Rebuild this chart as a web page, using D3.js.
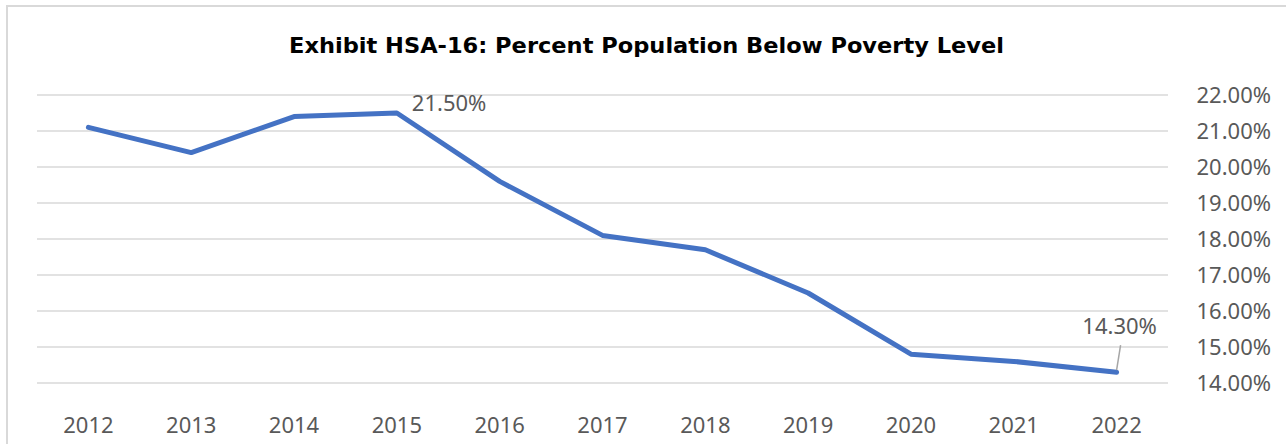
<!DOCTYPE html>
<html>
<head>
<meta charset="utf-8">
<script src="https://cdn.jsdelivr.net/npm/d3@7"></script>
<style>
    body { margin: 0; background: #fff; }
    svg { display: block; font-family: "Noto Sans", "Open Sans", sans-serif; }
    .grid line { stroke: #d9d9d9; stroke-width: 1.5; }
    .tick_value { fill: #595959; font-size: 22px; }
</style>
</head>
<body>
<svg id="chart" width="1286" height="444"></svg>
<script>
// chart data
let years = ["2012", "2013", "2014", "2015", "2016", "2017", "2018", "2019", "2020", "2021", "2022"];
let poverty = [21.1, 20.4, 21.4, 21.5, 19.6, 18.1, 17.7, 16.5, 14.8, 14.6, 14.3];
let y_ticks = [14, 15, 16, 17, 18, 19, 20, 21, 22];

let svg = d3.select("#chart"),
    width = +svg.attr("width"),
    height = +svg.attr("height");

let plot = {left: 37, right: 1168, top: 95, bottom: 383};

// frame around the chart
svg.append("path")
    .attr("d", "M7,444 V6 H1286")
    .attr("fill", "none")
    .attr("stroke", "#d9d9d9")
    .attr("stroke-width", 2);

svg.append("text")
    .attr("x", 289)
    .attr("y", 53)
    .attr("font-family", "'DejaVu Sans', sans-serif")
    .attr("font-size", 22)
    .attr("font-weight", "bold")
    .attr("fill", "#000")
    .attr("textLength", 715)
    .attr("lengthAdjust", "spacingAndGlyphs")
    .text("Exhibit HSA-16: Percent Population Below Poverty Level");

let xScale = d3.scaleBand()
    .domain(years)
    .range([plot.left, plot.right]);

let yScale = d3.scaleLinear()
    .domain([14, 22])
    .range([plot.bottom, plot.top]);

svg.append("g")
    .attr("class", "grid")
    .selectAll("line")
    .data(y_ticks)
    .enter()
    .append("line")
    .attr("x1", plot.left)
    .attr("x2", plot.right)
    .attr("y1", d => yScale(d))
    .attr("y2", d => yScale(d));

svg.append("g")
    .selectAll("text")
    .data(y_ticks)
    .enter()
    .append("text")
    .attr("class", "tick_value")
    .attr("x", 1271)
    .attr("y", d => yScale(d) + 8)
    .attr("text-anchor", "end")
    .text(d => d.toFixed(2) + "%");

svg.append("g")
    .selectAll("text")
    .data(years)
    .enter()
    .append("text")
    .attr("class", "tick_value")
    .attr("x", d => xScale(d) + xScale.bandwidth() / 2)
    .attr("y", 433)
    .attr("text-anchor", "middle")
    .text(d => d);

let points = years.map((y, i) => [xScale(y) + xScale.bandwidth() / 2, yScale(poverty[i])]);

svg.append("path")
    .attr("d", d3.line()(points))
    .attr("fill", "none")
    .attr("stroke", "#4472c4")
    .attr("stroke-width", 5)
    .attr("stroke-linejoin", "round")
    .attr("stroke-linecap", "round");

// data labels
let i15 = years.indexOf("2015");
svg.append("text")
    .attr("class", "tick_value")
    .attr("x", points[i15][0] + 15)
    .attr("y", points[i15][1] - 2)
    .text(poverty[i15].toFixed(2) + "%");

let i22 = years.indexOf("2022");
svg.append("line")
    .attr("x1", points[i22][0])
    .attr("y1", points[i22][1] - 2)
    .attr("x2", points[i22][0] + 4)
    .attr("y2", points[i22][1] - 27)
    .attr("stroke", "#a6a6a6")
    .attr("stroke-width", 1.5);
svg.append("text")
    .attr("class", "tick_value")
    .attr("x", points[i22][0] + 3)
    .attr("y", points[i22][1] - 38)
    .attr("text-anchor", "middle")
    .text(poverty[i22].toFixed(2) + "%");
</script>
</body>
</html>
